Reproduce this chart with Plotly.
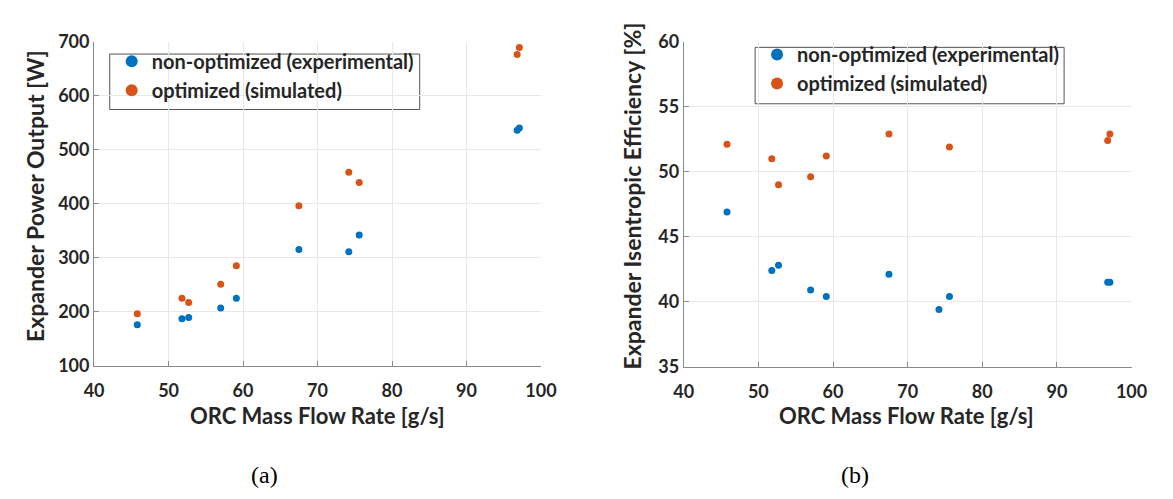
import plotly.graph_objects as go

# Data
flow = [45.8, 51.8, 52.7, 57.0, 59.1, 67.5, 74.2, 75.6, 96.8, 97.1]
power_nonopt = [176, 187, 189, 207, 225, 315, 311, 342, 536, 540]
power_opt = [196, 225, 217, 251, 285, 396, 458, 439, 676, 689]
eff_nonopt = [46.9, 42.4, 42.8, 40.9, 40.4, 42.1, 39.4, 40.4, 41.5, 41.5]
flow_opt_eff = [45.8, 51.8, 52.7, 57.0, 59.1, 67.5, 75.6, 96.8, 97.1]
eff_opt = [52.1, 51.0, 49.0, 49.6, 51.2, 52.9, 51.9, 52.4, 52.9]

x_ticks = [40, 50, 60, 70, 80, 90, 100]
power_ticks = [100, 200, 300, 400, 500, 600, 700]
eff_ticks = [35, 40, 45, 50, 55, 60]

BLUE = "#0072BD"
ORANGE = "#D95319"
FONT = "Lato"
TXT = "#262626"
W, H = 1173, 499

fig = go.Figure()
fig.add_trace(go.Scatter(x=flow, y=power_nonopt, mode="markers", name="non-optimized (experimental)",
                         marker=dict(color=BLUE, size=7), xaxis="x", yaxis="y", legend="legend"))
fig.add_trace(go.Scatter(x=flow, y=power_opt, mode="markers", name="optimized (simulated)",
                         marker=dict(color=ORANGE, size=7), xaxis="x", yaxis="y", legend="legend"))
fig.add_trace(go.Scatter(x=flow, y=eff_nonopt, mode="markers", name="non-optimized (experimental)",
                         marker=dict(color=BLUE, size=7), xaxis="x2", yaxis="y2", legend="legend2"))
fig.add_trace(go.Scatter(x=flow_opt_eff, y=eff_opt, mode="markers", name="optimized (simulated)",
                         marker=dict(color=ORANGE, size=7), xaxis="x2", yaxis="y2", legend="legend2"))

def px(x):
    return x / W

def py(y):
    return 1 - y / H

axis_common = dict(showgrid=True, gridcolor="#e8e8e8", gridwidth=1, zeroline=False,
                   showline=True, linecolor="#8a8a8a", linewidth=1, ticks="inside", ticklen=5,
                   tickcolor="#8a8a8a", tickfont=dict(family=FONT, size=18, color=TXT, weight="bold"))

leg_font = dict(family=FONT, size=20, color=TXT, weight="bold")
fig.update_layout(
    width=W, height=H, margin=dict(l=0, r=0, t=0, b=0),
    paper_bgcolor="white", plot_bgcolor="white",
    xaxis=dict(domain=[px(86), px(543)], range=[40, 100], tickvals=x_ticks, anchor="y",
               ticklabelstandoff=9, **axis_common),
    yaxis=dict(domain=[py(370), py(31)], range=[100, 700], tickvals=power_ticks, anchor="x", **axis_common),
    xaxis2=dict(domain=[px(689), px(1147)], range=[40, 100], tickvals=x_ticks, anchor="y2",
                ticklabelstandoff=9, **axis_common),
    yaxis2=dict(domain=[py(371), py(31)], range=[35, 60], tickvals=eff_ticks, anchor="x2", **axis_common),
    legend=dict(x=px(104), y=py(31), xanchor="left", yanchor="top", bgcolor="rgba(0,0,0,0)",
                borderwidth=0, font=leg_font, itemsizing="constant", tracegroupgap=0),
    legend2=dict(x=px(764), y=py(24), xanchor="left", yanchor="top", bgcolor="rgba(0,0,0,0)",
                 borderwidth=0, font=leg_font, itemsizing="constant", tracegroupgap=0),
    shapes=[
        dict(type="rect", xref="paper", yref="paper", x0=px(102), x1=px(419), y0=py(102), y1=py(44),
             line=dict(color="#555555", width=1), fillcolor="white", layer="between"),
        dict(type="rect", xref="paper", yref="paper", x0=px(762), x1=px(1078), y0=py(96), y1=py(37),
             line=dict(color="#555555", width=1), fillcolor="white", layer="between"),
    ],
)

ann = []
title_font = dict(family=FONT, size=22, color=TXT, weight="bold")
ytitle_font = dict(family=FONT, size=23, color=TXT, weight="bold")
ann.append(dict(text="ORC Mass Flow Rate [g/s]", x=px(314), y=py(422), xref="paper", yref="paper",
                showarrow=False, font=title_font, xanchor="center", yanchor="middle"))
ann.append(dict(text="ORC Mass Flow Rate [g/s]", x=px(917), y=py(422), xref="paper", yref="paper",
                showarrow=False, font=title_font, xanchor="center", yanchor="middle"))
ann.append(dict(text="Expander Power Output [W]", x=px(25), y=py(192), xref="paper", yref="paper",
                showarrow=False, font=ytitle_font, textangle=-90, xanchor="center", yanchor="middle"))
ann.append(dict(text="Expander Isentropic Efficiency [%]", x=px(636), y=py(192), xref="paper", yref="paper",
                showarrow=False, font=ytitle_font, textangle=-90, xanchor="center", yanchor="middle"))
cap_font = dict(family="Liberation Serif", size=24, color="black")
ann.append(dict(text="(a)", x=px(260), y=py(484), xref="paper", yref="paper",
                showarrow=False, font=cap_font, xanchor="center", yanchor="middle"))
ann.append(dict(text="(b)", x=px(864), y=py(484), xref="paper", yref="paper",
                showarrow=False, font=cap_font, xanchor="center", yanchor="middle"))
fig.update_layout(annotations=ann)

fig.write_html("out.html")
